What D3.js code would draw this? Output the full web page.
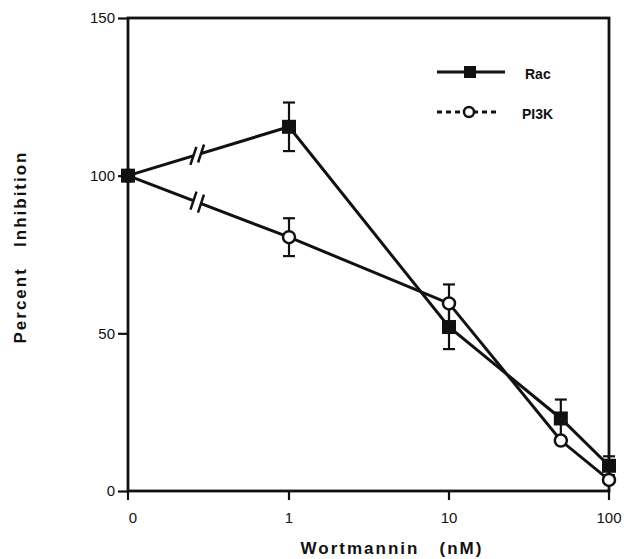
<!DOCTYPE html>
<html>
<head>
<meta charset="utf-8">
<script src="https://cdn.jsdelivr.net/npm/d3@7"></script>
<style>
  body { margin: 0; background: #fff; }
  svg { display: block; }
  text { font-family: "Liberation Sans", Arial, sans-serif; fill: #111; }
</style>
</head>
<body>
<div id="chart"></div>
<script>
const width = 624, height = 559;

// doses (nM); 0 is drawn at the left, past an axis break
const doses = [0, 1, 10, 50, 100];
const racValues = [100, 115.5, 52, 23, 8];
const racErrors = [0, 7.7, 7, 6, 3];
const pi3kValues = [100, 80.5, 59.5, 16, 3.5];
const pi3kErrors = [0, 6, 6, 0, 0];
const xTickLabels = ["0", "1", "10", "100"];
const yTicks = [0, 50, 100, 150];

const plotLeft = 128, plotRight = 609, plotTop = 18, plotBottom = 491;

const x = d3.scaleLog().domain([1, 100]).range([289, plotRight]);
const xPos = d => d === 0 ? plotLeft : x(d);
const y = d3.scaleLinear().domain([0, 150]).range([plotBottom, plotTop]);

const svg = d3.select("#chart")
  .append("svg")
  .attr("width", width)
  .attr("height", height);

// frame
svg.append("rect")
  .attr("x", plotLeft).attr("y", plotTop)
  .attr("width", plotRight - plotLeft).attr("height", plotBottom - plotTop)
  .attr("fill", "none").attr("stroke", "#111").attr("stroke-width", 2.8);

// y axis
const yAxis = svg.append("g").attr("transform", `translate(${plotLeft},0)`)
  .call(d3.axisLeft(y).tickValues(yTicks).tickSize(10).tickPadding(3));
yAxis.select(".domain").remove();
yAxis.selectAll("line").attr("stroke", "#111").attr("stroke-width", 2.2);
yAxis.selectAll("text").style("font-size", "15px").attr("fill", "#111");

// x axis
const xTickVals = [0, 1, 10, 100];
const xAxis = svg.append("g").attr("transform", `translate(0,${plotBottom})`);
xAxis.selectAll("line")
  .data(xTickVals)
  .join("line")
  .attr("x1", d => xPos(d)).attr("x2", d => xPos(d))
  .attr("y1", 0).attr("y2", 9)
  .attr("stroke", "#111").attr("stroke-width", 2.2);
xAxis.selectAll("text")
  .data(xTickVals)
  .join("text")
  .attr("x", d => xPos(d) + (d === 0 ? 5 : 0))
  .attr("y", 32)
  .attr("text-anchor", "middle")
  .style("font-size", "15px")
  .text((d, i) => xTickLabels[i]);

// axis titles
svg.append("text")
  .attr("x", 392).attr("y", 554)
  .attr("text-anchor", "middle")
  .attr("xml:space", "preserve")
  .style("font-size", "17px").style("font-weight", "bold")
  .style("letter-spacing", "2px")
  .text("Wortmannin   (nM)");

svg.append("text")
  .attr("transform", "translate(26,247) rotate(-90)")
  .attr("text-anchor", "middle")
  .attr("xml:space", "preserve")
  .style("font-size", "17px").style("font-weight", "bold")
  .style("letter-spacing", "2px")
  .text("Percent   Inhibition");

// series
const rac = doses.map((d, i) => ({ dose: d, value: racValues[i], err: racErrors[i] }));
const pi3k = doses.map((d, i) => ({ dose: d, value: pi3kValues[i], err: pi3kErrors[i] }));

const line = d3.line().x(d => xPos(d.dose)).y(d => y(d.value));

[pi3k, rac].forEach(s => {
  svg.append("path")
    .datum(s)
    .attr("d", line)
    .attr("fill", "none")
    .attr("stroke", "#111")
    .attr("stroke-width", 3);

  // break marks on the segment from 0 to 1
  const p0 = [xPos(s[0].dose), y(s[0].value)];
  const p1 = [xPos(s[1].dose), y(s[1].value)];
  const t = 0.43;
  const bx = p0[0] + (p1[0] - p0[0]) * t, by = p0[1] + (p1[1] - p0[1]) * t;
  const ang = Math.atan2(p1[1] - p0[1], p1[0] - p0[0]);
  const ux = Math.cos(ang), uy = Math.sin(ang);
  svg.append("line")
    .attr("x1", bx - ux * 4).attr("y1", by - uy * 4)
    .attr("x2", bx + ux * 4).attr("y2", by + uy * 4)
    .attr("stroke", "#fff").attr("stroke-width", 5);
  [-4, 4].forEach(o => {
    const cx = bx + ux * o, cy = by + uy * o;
    svg.append("line")
      .attr("x1", cx - 3).attr("y1", cy + 9)
      .attr("x2", cx + 3).attr("y2", cy - 9)
      .attr("stroke", "#111").attr("stroke-width", 2.5);
  });
});

// error bars
function errorBars(s) {
  const g = svg.append("g").attr("stroke", "#111").attr("stroke-width", 2.2);
  s.filter(d => d.err > 0).forEach(d => {
    const cx = xPos(d.dose);
    [d.value + d.err, d.value - d.err].forEach(v => {
      g.append("line").attr("x1", cx).attr("x2", cx)
        .attr("y1", y(d.value)).attr("y2", y(v));
      g.append("line").attr("x1", cx - 6).attr("x2", cx + 6)
        .attr("y1", y(v)).attr("y2", y(v));
    });
  });
}
errorBars(rac);
errorBars(pi3k);

// markers
svg.append("g")
  .selectAll("circle")
  .data(pi3k)
  .join("circle")
  .attr("cx", d => xPos(d.dose))
  .attr("cy", d => y(d.value))
  .attr("r", 6)
  .attr("fill", "#fff")
  .attr("stroke", "#111")
  .attr("stroke-width", 2.5);

svg.append("g")
  .selectAll("rect")
  .data(rac)
  .join("rect")
  .attr("x", d => xPos(d.dose) - 7)
  .attr("y", d => y(d.value) - 7)
  .attr("width", 14).attr("height", 14)
  .attr("fill", "#111");

// legend
const legend = svg.append("g");
legend.append("line")
  .attr("x1", 437).attr("x2", 505).attr("y1", 72).attr("y2", 72)
  .attr("stroke", "#111").attr("stroke-width", 3);
legend.append("rect")
  .attr("x", 464).attr("y", 66).attr("width", 12).attr("height", 12)
  .attr("fill", "#111");
legend.append("text")
  .attr("x", 525).attr("y", 79)
  .style("font-size", "14px").style("font-weight", "bold")
  .text("Rac");

legend.append("line")
  .attr("x1", 437).attr("x2", 500).attr("y1", 112).attr("y2", 112)
  .attr("stroke", "#111").attr("stroke-width", 3)
  .attr("stroke-dasharray", "5,4");
legend.append("circle")
  .attr("cx", 469).attr("cy", 112).attr("r", 5)
  .attr("fill", "#fff").attr("stroke", "#111").attr("stroke-width", 2.5);
legend.append("text")
  .attr("x", 522).attr("y", 119)
  .style("font-size", "14px").style("font-weight", "bold")
  .text("PI3K");
</script>
</body>
</html>
